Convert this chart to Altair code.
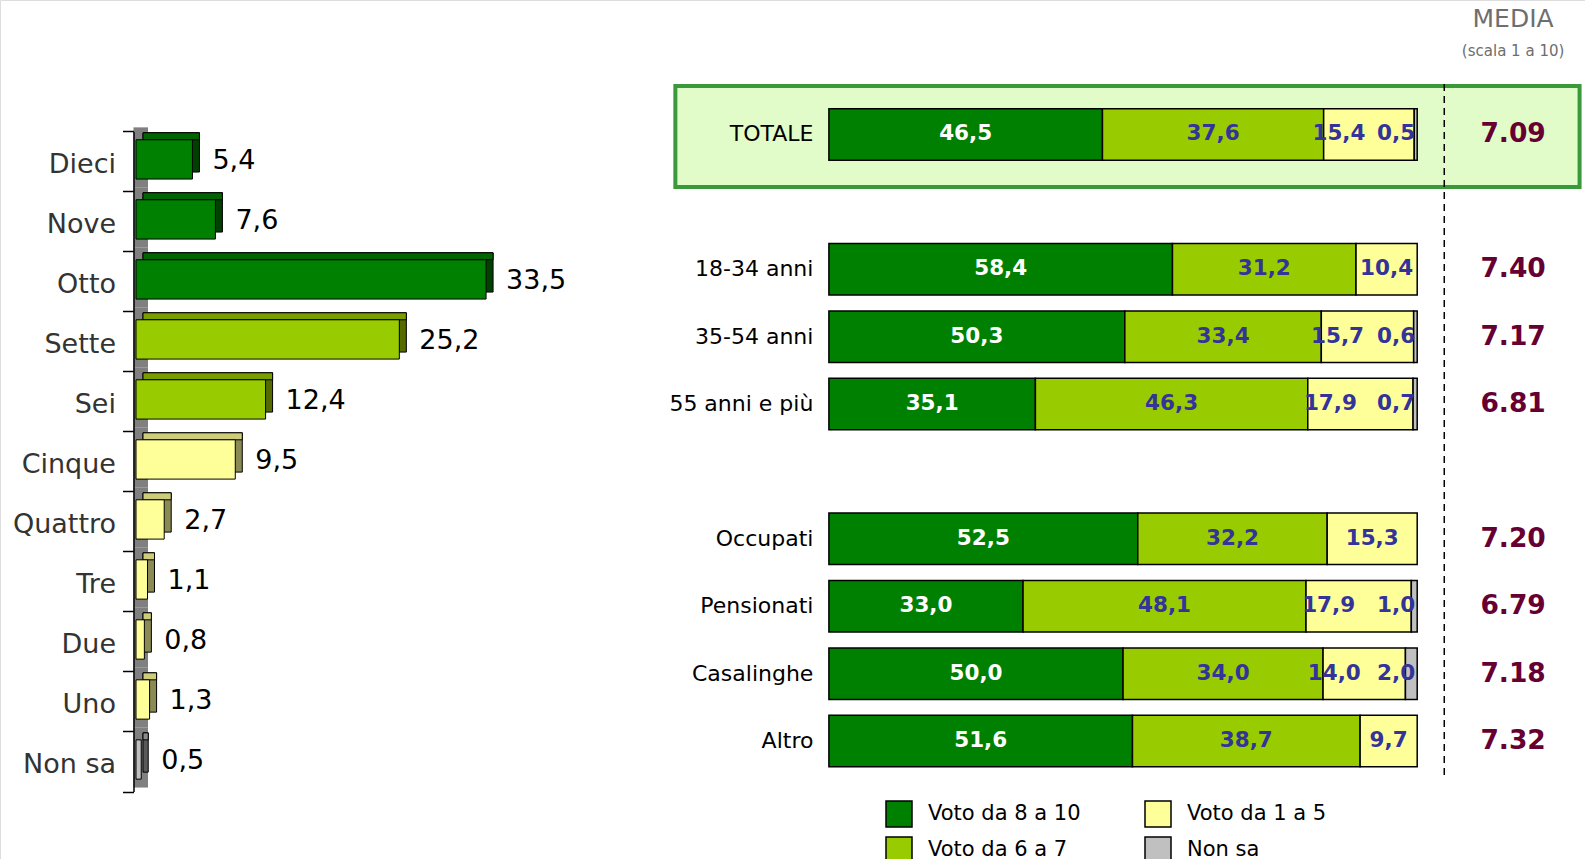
import altair as alt
import pandas as pd

# ---------------- data ----------------
score_labels = ["Dieci", "Nove", "Otto", "Sette", "Sei", "Cinque", "Quattro", "Tre", "Due", "Uno", "Non sa"]
score_values = [5.4, 7.6, 33.5, 25.2, 12.4, 9.5, 2.7, 1.1, 0.8, 1.3, 0.5]
score_groups = ["high", "high", "high", "mid", "mid", "low", "low", "low", "low", "low", "ns"]

groups = ["TOTALE", "18-34 anni", "35-54 anni", "55 anni e più", "Occupati", "Pensionati", "Casalinghe", "Altro"]
voto_8_10 = [46.5, 58.4, 50.3, 35.1, 52.5, 33.0, 50.0, 51.6]
voto_6_7 = [37.6, 31.2, 33.4, 46.3, 32.2, 48.1, 34.0, 38.7]
voto_1_5 = [15.4, 10.4, 15.7, 17.9, 15.3, 17.9, 14.0, 9.7]
non_sa = [0.5, 0.0, 0.6, 0.7, 0.0, 1.0, 2.0, 0.0]
media = [7.09, 7.40, 7.17, 6.81, 7.20, 6.79, 7.18, 7.32]

slots = ["TOTALE", "gap1", "18-34 anni", "35-54 anni", "55 anni e più", "gap2",
         "Occupati", "Pensionati", "Casalinghe", "Altro"]
series_names = ["Voto da 8 a 10", "Voto da 6 a 7", "Voto da 1 a 5", "Non sa"]
series_colors = ["#008000", "#99CC00", "#FFFF99", "#C0C0C0"]

# ---------------- styles ----------------
FONT = "DejaVu Sans"
front_col = {"high": "#008000", "mid": "#99CC00", "low": "#FFFF99", "ns": "#C0C0C0"}
top_col = {"high": "#006400", "mid": "#7A9E00", "low": "#CCCC7A", "ns": "#8C8C8C"}
side_col = {"high": "#004000", "mid": "#556B00", "low": "#8A8A55", "ns": "#5A5A5A"}

W, H = 1585, 859

def fmt(v):
    return f"{v:.1f}".replace(".", ",")

# ---------------- left chart ----------------
PX_L = 10.45
X0_L = 136.0
dl = pd.DataFrame({
    "cat": score_labels,
    "v": score_values,
    "zero": 0.0,
    "lab": [fmt(v) for v in score_values],
    "front": [front_col[g] for g in score_groups],
    "top": [top_col[g] for g in score_groups],
    "side": [side_col[g] for g in score_groups],
})

xl_scale = alt.Scale(domain=[-X0_L / PX_L, (W - X0_L) / PX_L], nice=False, zero=False)
yl_scale = alt.Scale(domain=score_labels, range=[131.4, 791.5], paddingInner=0, paddingOuter=0)
yl_axis = alt.Axis(orient="left", offset=-133.5, title=None, domain=True, domainColor="black",
                   domainWidth=1.5, ticks=True, tickBand="extent", tickSize=11, tickColor="black",
                   tickWidth=1.5, labelFontSize=27, labelFont=FONT, labelColor="#333333",
                   labelPadding=7, labelOffset=3, grid=False, labelLimit=300, zindex=1)

def yl():
    return alt.Y("cat:N", sort=score_labels, scale=yl_scale, axis=yl_axis)

BAR_L = 39.3
DEPTH = 7

base_l = alt.Chart(dl)
wall = base_l.mark_bar(color="#808080", size=60.1, yOffset=-4, xOffset=-2.5, x2Offset=12).encode(
    x=alt.X("zero:Q", scale=xl_scale, axis=None), x2="zero:Q", y=yl())
side = base_l.mark_bar(size=BAR_L, yOffset=-2 - DEPTH, xOffset=DEPTH, x2Offset=DEPTH,
                       stroke="black", strokeWidth=1).encode(
    x=alt.X("v:Q", scale=xl_scale, axis=None), x2="zero:Q", y=yl(),
    color=alt.Color("side:N", scale=None))
top = base_l.mark_bar(size=DEPTH, yOffset=-2 - BAR_L / 2 - DEPTH / 2, xOffset=DEPTH, x2Offset=DEPTH,
                      stroke="black", strokeWidth=1).encode(
    x=alt.X("v:Q", scale=xl_scale, axis=None), x2="zero:Q", y=yl(),
    color=alt.Color("top:N", scale=None))
front = base_l.mark_bar(size=BAR_L, yOffset=-2, stroke="black", strokeWidth=1).encode(
    x=alt.X("v:Q", scale=xl_scale, axis=None), x2="zero:Q", y=yl(),
    color=alt.Color("front:N", scale=None))
vals_l = base_l.mark_text(align="left", baseline="middle", dx=20, dy=0, fontSize=27, font=FONT,
                          color="black").encode(
    x=alt.X("v:Q", scale=xl_scale, axis=None), y=yl(), text="lab:N")

left = alt.layer(wall, side, top, front, vals_l)

# ---------------- right chart ----------------
PX_R = 5.883
X0_R = 828.9
xr_scale = alt.Scale(domain=[-X0_R / PX_R, (W - X0_R) / PX_R], nice=False, zero=False)
yr_scale = alt.Scale(domain=slots, range=[100.7, 774.8], paddingInner=0, paddingOuter=0)
yr_axis = alt.Axis(orient="left", offset=-X0_R, title=None, domain=False, ticks=False, grid=False,
                   labelFontSize=22, labelFont=FONT, labelColor="black", labelPadding=16,
                   labelLimit=400, zindex=1,
                   labelExpr="indexof(datum.label, 'gap') >= 0 ? '' : datum.label")

def yr():
    return alt.Y("slot:N", sort=slots, scale=yr_scale, axis=yr_axis)

rows = []
for i, g in enumerate(groups):
    vals = [voto_8_10[i], voto_6_7[i], voto_1_5[i], non_sa[i]]
    start = 0.0
    has_ns = non_sa[i] > 0
    for k, (name, v) in enumerate(zip(series_names, vals)):
        if v <= 0:
            continue
        end = start + v
        if k == 0:
            mode = "white"
        elif k == 3:
            mode = "right"
        elif k == 2 and has_ns:
            mode = "shift"
        else:
            mode = "center"
        rows.append({"slot": g, "serie": name, "start": start, "end": end,
                     "mid": (start + end) / 2, "lab": fmt(v), "mode": mode})
        start = end
dr = pd.DataFrame(rows)

box_df = pd.DataFrame({"slot": ["TOTALE"], "bx0": [-26.1], "bx1": [127.6]})
box = alt.Chart(box_df).mark_bar(size=101, yOffset=2, fill="#E1FCC8", stroke="#3A9A3A", strokeWidth=4).encode(
    x=alt.X("bx0:Q", scale=xr_scale, axis=None), x2="bx1:Q", y=yr())

segs = alt.Chart(dr).mark_bar(size=51.5, stroke="black", strokeWidth=1.5).encode(
    x=alt.X("start:Q", scale=xr_scale, axis=None), x2="end:Q", y=yr(),
    color=alt.Color("serie:N", scale=alt.Scale(domain=series_names, range=series_colors),
                    legend=alt.Legend(orient="none", legendX=885, legendY=800, columns=2,
                                      symbolType="square", symbolSize=676, symbolStrokeColor="black",
                                      symbolStrokeWidth=1.5, symbolOpacity=1, labelFontSize=21,
                                      labelFont=FONT, labelColor="black", labelOffset=15,
                                      rowPadding=4, columnPadding=61, padding=0, title=None,
                                      labelLimit=400)))

def seg_text(mode, color, **kw):
    return alt.Chart(dr).transform_filter(alt.datum.mode == mode).mark_text(
        baseline="middle", fontSize=21.5, fontWeight="bold", font=FONT, color=color, **kw).encode(
        x=alt.X("mid:Q" if mode != "right" else "end:Q", scale=xr_scale, axis=None), y=yr(), text="lab:N")

t_white = seg_text("white", "white", align="center")
t_center = seg_text("center", "#333399", align="center")
t_shift = seg_text("shift", "#333399", align="center", dx=-30)
t_right = seg_text("right", "#333399", align="right", dx=-2)

dm = pd.DataFrame({"slot": groups, "m": [f"{v:.2f}" for v in media], "mx": 116.3})
med = alt.Chart(dm).mark_text(align="center", baseline="middle", fontSize=26.5, fontWeight="bold",
                              font=FONT, color="#660033").encode(
    x=alt.X("mx:Q", scale=xr_scale, axis=None), y=yr(), text="m:N")

rule_df = pd.DataFrame({"slot": ["TOTALE"], "slot_end": ["Altro"], "rx": [104.6]})
rule = alt.Chart(rule_df).mark_rule(strokeDash=[7, 5], strokeWidth=1.5, color="black",
                                    yOffset=-50.4, y2Offset=37).encode(
    x=alt.X("rx:Q", scale=xr_scale, axis=None), y=yr(), y2="slot_end:N")

title_df = pd.DataFrame({"slot": ["TOTALE"], "mx": [116.3], "t1": ["MEDIA"], "t2": ["(scala 1 a 10)"]})
t1 = alt.Chart(title_df).mark_text(align="center", baseline="middle", fontSize=25, font=FONT,
                                   color="#6E6E6E", dy=-115.2).encode(
    x=alt.X("mx:Q", scale=xr_scale, axis=None), y=yr(), text="t1:N")
t2 = alt.Chart(title_df).mark_text(align="center", baseline="middle", fontSize=15, font=FONT,
                                   color="#6E6E6E", dy=-83.9).encode(
    x=alt.X("mx:Q", scale=xr_scale, axis=None), y=yr(), text="t2:N")

right = alt.layer(box, rule, segs, t_white, t_center, t_shift, t_right, med, t1, t2)

chart = alt.layer(left, right).resolve_scale(
    x="independent", y="independent", color="independent"
).properties(width=W, height=H, padding=0, autosize="none", background="white").configure_view(
    strokeWidth=0).configure(font=FONT)

chart.save("out.html", embed_options={"renderer": "svg", "actions": False})
